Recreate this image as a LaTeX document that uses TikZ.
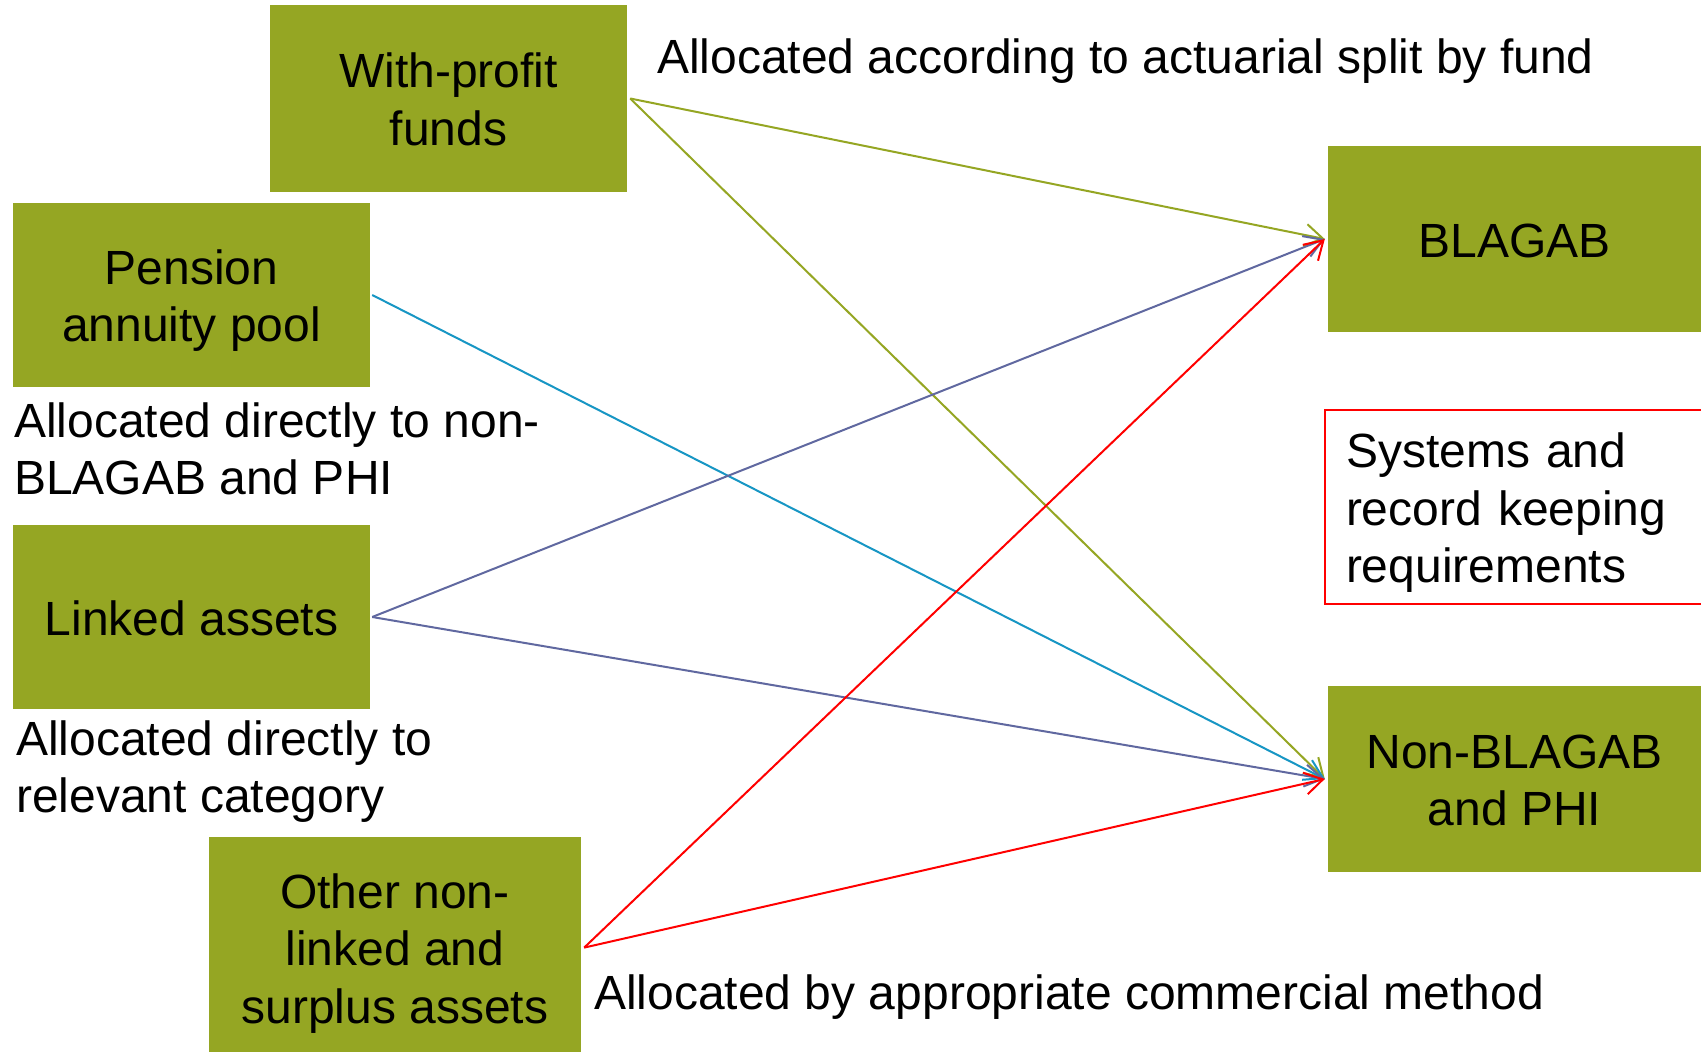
\documentclass[tikz,border=0pt]{standalone}
\usepackage{fontspec}
\setmainfont{Liberation Sans}
\usetikzlibrary{arrows.meta}
\definecolor{boxgreen}{RGB}{149,166,35}
\definecolor{lineteal}{RGB}{23,150,196}
\definecolor{lineslate}{RGB}{96,104,160}
\definecolor{linered}{RGB}{255,0,0}
\newcommand\bigfont{\fontsize{48}{57.6}\selectfont}
\newcommand\lstrut{\rule[-10pt]{0pt}{56pt}}
\begin{document}
\begin{tikzpicture}[x=1pt,y=-1pt,
  box/.style={fill=boxgreen, draw=none, inner sep=0pt, align=center, font=\bigfont},
  lbl/.style={inner sep=0pt, anchor=north west, align=left, font=\bigfont},
  conn/.style={line width=2pt, -{Straight Barb[length=18pt,width=22pt,line width=2pt]}}]
\useasboundingbox (0,0) rectangle (1701,1052);
\clip (0,0) rectangle (1701,1052);
\fill[white] (0,0) rectangle (1701,1052);

\node[box, minimum width=357pt, minimum height=187pt] (wp) at (448.5,98.5) {\lstrut With-profit\\\lstrut funds};
\node[box, minimum width=357pt, minimum height=184pt] (pen) at (191.5,295) {\lstrut Pension\\\lstrut annuity pool};
\node[box, minimum width=357pt, minimum height=184pt] (lnk) at (191.5,617) {\lstrut Linked assets};
\node[box, minimum width=372pt, minimum height=221.2pt] (oth) at (395,947.6) {\lstrut Other non-\\\lstrut linked and\\\lstrut surplus assets};
\node[box, minimum width=373pt, minimum height=186pt] (bl) at (1514.5,239) {\lstrut BLAGAB};
\node[box, minimum width=373pt, minimum height=186pt] (nb) at (1514.5,779) {\lstrut Non-BLAGAB\\\lstrut and PHI};

\node[draw=linered, line width=2pt, anchor=west, minimum height=194pt, text width=347pt,
      inner xsep=21pt, inner ysep=0pt, align=left, font=\bigfont] (sys) at (1324,507)
  {\lstrut Systems and\\\lstrut record keeping\\\lstrut requirements};

\node[lbl] (la) at (657,27) {\lstrut Allocated according to actuarial split by fund};
\node[lbl] (lb) at (14,391) {\lstrut Allocated directly to non-\\\lstrut BLAGAB and PHI};
\node[lbl] (lc) at (16,709) {\lstrut Allocated directly to\\\lstrut relevant category};
\node[lbl] (ld) at (594,963) {\lstrut Allocated by appropriate commercial method};

\draw[conn, boxgreen] ([xshift=3pt]wp.east) -- ([xshift=-3pt]bl.west);
\draw[conn, boxgreen] ([xshift=3pt]wp.east) -- ([xshift=-3pt]nb.west);
\draw[conn, lineteal] ([xshift=2pt]pen.east) -- ([xshift=-3pt]nb.west);
\draw[conn, lineslate] ([xshift=2pt]lnk.east) -- ([xshift=-3pt]bl.west);
\draw[conn, lineslate] ([xshift=2pt]lnk.east) -- ([xshift=-3pt]nb.west);
\draw[conn, linered] ([xshift=3pt]oth.east) -- ([xshift=-3pt]bl.west);
\draw[conn, linered] ([xshift=3pt]oth.east) -- ([xshift=-3pt]nb.west);
\end{tikzpicture}
\end{document}
